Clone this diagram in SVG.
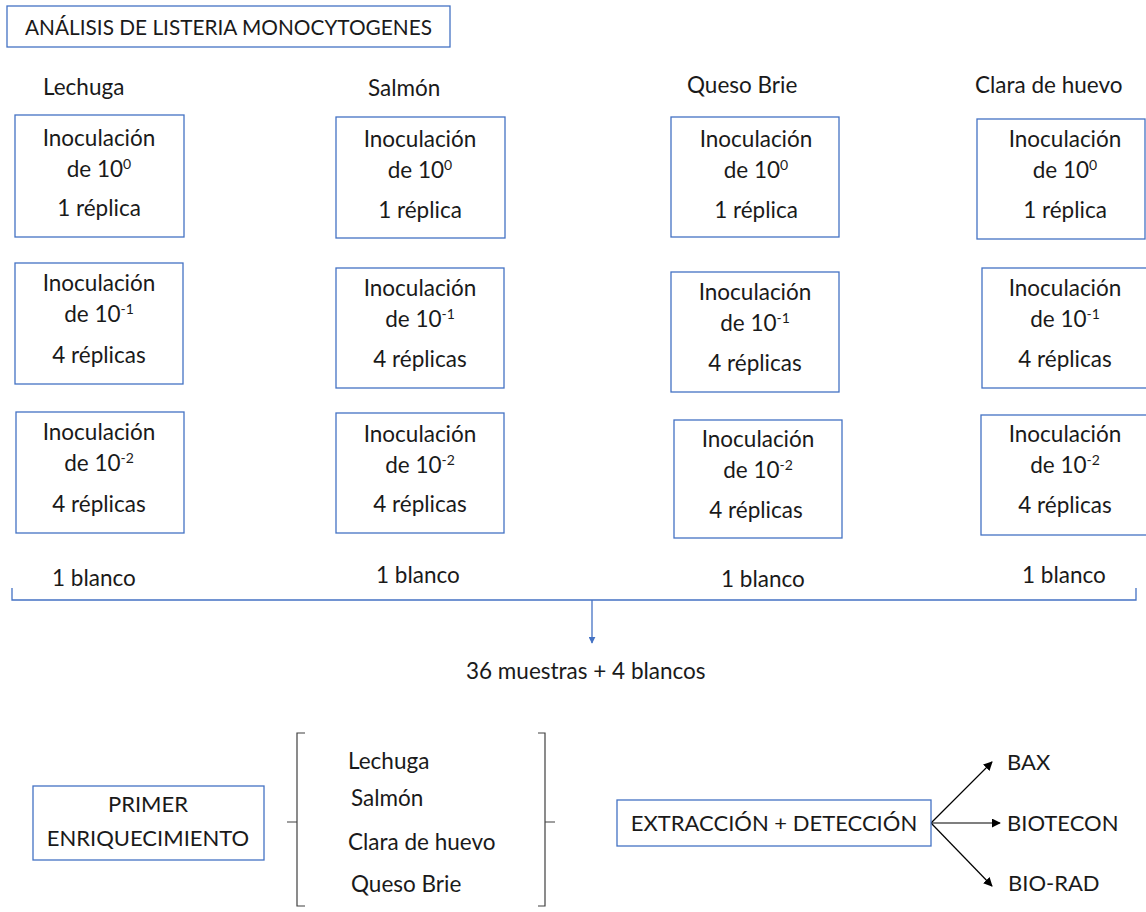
<svg xmlns="http://www.w3.org/2000/svg" width="1146" height="912" viewBox="0 0 1146 912">
  <style>
    .bg { fill: #ffffff; }
    .box { fill: #ffffff; stroke: #4472c4; stroke-width: 1.3; }
    .t { font-family: Lato, "Liberation Sans", sans-serif; font-size: 22.5px; fill: #1a1a1a; }
    .cap { font-size: 22px; }
    .c { text-anchor: middle; }
    .sup { font-size: 14px; }
    .blue { fill: none; stroke: #4472c4; stroke-width: 1.3; }
    .brk { fill: none; stroke: #404040; stroke-width: 1.2; }
    .blk { fill: none; stroke: #000000; stroke-width: 1.2; }
  </style>
  <defs>
    <marker id="arrBlue" viewBox="0 0 10 10" refX="9" refY="5" markerWidth="7" markerHeight="7" orient="auto" markerUnits="userSpaceOnUse">
      <path d="M0,0 L10,5 L0,10 z" fill="#4472c4"/>
    </marker>
    <marker id="arrBlack" viewBox="0 0 10 10" refX="9" refY="5" markerWidth="9" markerHeight="9" orient="auto" markerUnits="userSpaceOnUse">
      <path d="M0,0 L10,5 L0,10 z" fill="#000000"/>
    </marker>
  </defs>
  <rect class="bg" x="0" y="0" width="1146" height="912"/>

  <!-- title -->
  <g id="title">
    <rect class="box" x="7" y="6" width="443" height="41"/>
    <text class="t cap" x="25" y="35" textLength="407" lengthAdjust="spacingAndGlyphs">ANÁLISIS DE LISTERIA MONOCYTOGENES</text>
  </g>

  <!-- column headers -->
  <g id="headers">
    <text class="t" x="43" y="95">Lechuga</text>
    <text class="t" x="368" y="96">Salmón</text>
    <text class="t" x="687" y="93">Queso Brie</text>
    <text class="t" x="975" y="93">Clara de huevo</text>
  </g>

  <!-- Lechuga -->
  <g id="lechuga-1">
    <rect class="box" x="15" y="115" width="169" height="122"/>
    <text class="t c" x="99" y="146">Inoculación</text>
    <text class="t c" x="99" y="177">de 10<tspan class="sup" dy="-8">0</tspan></text>
    <text class="t c" x="99" y="216">1 réplica</text>
  </g>
  <g id="lechuga-2">
    <rect class="box" x="15" y="263" width="168" height="121"/>
    <text class="t c" x="99" y="291">Inoculación</text>
    <text class="t c" x="99" y="322">de 10<tspan class="sup" dy="-8">-1</tspan></text>
    <text class="t c" x="99" y="363">4 réplicas</text>
  </g>
  <g id="lechuga-3">
    <rect class="box" x="16" y="412" width="168" height="121"/>
    <text class="t c" x="99" y="440">Inoculación</text>
    <text class="t c" x="99" y="471">de 10<tspan class="sup" dy="-8">-2</tspan></text>
    <text class="t c" x="99" y="512">4 réplicas</text>
  </g>

  <!-- Salmón -->
  <g id="salmon-1">
    <rect class="box" x="336" y="117" width="169" height="121"/>
    <text class="t c" x="420" y="147">Inoculación</text>
    <text class="t c" x="420" y="178">de 10<tspan class="sup" dy="-8">0</tspan></text>
    <text class="t c" x="420" y="218">1 réplica</text>
  </g>
  <g id="salmon-2">
    <rect class="box" x="336" y="268" width="168" height="120"/>
    <text class="t c" x="420" y="296">Inoculación</text>
    <text class="t c" x="420" y="327">de 10<tspan class="sup" dy="-8">-1</tspan></text>
    <text class="t c" x="420" y="367">4 réplicas</text>
  </g>
  <g id="salmon-3">
    <rect class="box" x="336" y="413" width="168" height="120"/>
    <text class="t c" x="420" y="442">Inoculación</text>
    <text class="t c" x="420" y="473">de 10<tspan class="sup" dy="-8">-2</tspan></text>
    <text class="t c" x="420" y="512">4 réplicas</text>
  </g>

  <!-- Queso Brie -->
  <g id="brie-1">
    <rect class="box" x="671" y="117" width="168" height="120"/>
    <text class="t c" x="756" y="147">Inoculación</text>
    <text class="t c" x="756" y="178">de 10<tspan class="sup" dy="-8">0</tspan></text>
    <text class="t c" x="756" y="218">1 réplica</text>
  </g>
  <g id="brie-2">
    <rect class="box" x="671" y="272" width="168" height="120"/>
    <text class="t c" x="755" y="300">Inoculación</text>
    <text class="t c" x="755" y="331">de 10<tspan class="sup" dy="-8">-1</tspan></text>
    <text class="t c" x="755" y="371">4 réplicas</text>
  </g>
  <g id="brie-3">
    <rect class="box" x="674" y="420" width="168" height="118"/>
    <text class="t c" x="758" y="447">Inoculación</text>
    <text class="t c" x="758" y="478">de 10<tspan class="sup" dy="-8">-2</tspan></text>
    <text class="t c" x="756" y="518">4 réplicas</text>
  </g>

  <!-- Clara de huevo -->
  <g id="clara-1">
    <rect class="box" x="977" y="119" width="168" height="120"/>
    <text class="t c" x="1065" y="147">Inoculación</text>
    <text class="t c" x="1065" y="178">de 10<tspan class="sup" dy="-8">0</tspan></text>
    <text class="t c" x="1065" y="218">1 réplica</text>
  </g>
  <g id="clara-2">
    <rect class="box" x="982" y="268" width="170" height="120"/>
    <text class="t c" x="1065" y="296">Inoculación</text>
    <text class="t c" x="1065" y="327">de 10<tspan class="sup" dy="-8">-1</tspan></text>
    <text class="t c" x="1065" y="367">4 réplicas</text>
  </g>
  <g id="clara-3">
    <rect class="box" x="981" y="415" width="171" height="120"/>
    <text class="t c" x="1065" y="442">Inoculación</text>
    <text class="t c" x="1065" y="473">de 10<tspan class="sup" dy="-8">-2</tspan></text>
    <text class="t c" x="1065" y="513">4 réplicas</text>
  </g>

  <!-- blanks -->
  <g id="blancos">
    <text class="t" x="52" y="586">1 blanco</text>
    <text class="t" x="376" y="583">1 blanco</text>
    <text class="t" x="721" y="587">1 blanco</text>
    <text class="t" x="1022" y="583">1 blanco</text>
  </g>

  <!-- connectors -->
  <g id="connectors">
    <path class="blue" d="M12,588 V600 H1136 V588"/>
    <path class="blue" d="M592,600 V643" marker-end="url(#arrBlue)"/>
    <path class="blk" d="M931,823 L992,762" marker-end="url(#arrBlack)"/>
    <path class="blk" d="M931,823 L1000,823" marker-end="url(#arrBlack)"/>
    <path class="blk" d="M931,823 L992,886" marker-end="url(#arrBlack)"/>
  </g>

  <g id="total">
    <text class="t" x="466" y="679">36 muestras + 4 blancos</text>
  </g>

  <!-- bottom: enrichment -->
  <g id="enriquecimiento">
    <rect class="box" x="33" y="786" width="231" height="74"/>
    <text class="t cap c" x="148" y="812">PRIMER</text>
    <text class="t cap c" x="148" y="846">ENRIQUECIMIENTO</text>
  </g>

  <g id="matrices">
    <path class="brk" d="M305,733 H297 V906 H305 M297,822 H287"/>
    <path class="brk" d="M538,733 H545 V906 H538 M545,822 H555"/>
    <text class="t" x="348" y="769">Lechuga</text>
    <text class="t" x="351" y="806">Salmón</text>
    <text class="t" x="348" y="850">Clara de huevo</text>
    <text class="t" x="351" y="892">Queso Brie</text>
  </g>

  <g id="extraccion">
    <rect class="box" x="617" y="800" width="314" height="46"/>
    <text class="t cap c" x="774" y="831">EXTRACCIÓN + DETECCIÓN</text>
  </g>

  <g id="metodos">
    <text class="t cap" x="1007" y="770">BAX</text>
    <text class="t cap" x="1007" y="831">BIOTECON</text>
    <text class="t cap" x="1008" y="891">BIO-RAD</text>
  </g>
</svg>
